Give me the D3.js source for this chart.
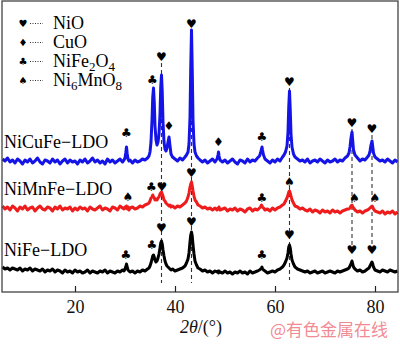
<!DOCTYPE html>
<html><head><meta charset="utf-8">
<script src="https://cdn.jsdelivr.net/npm/d3@7/dist/d3.min.js"></script>
<style>body{margin:0;background:#fff}svg{display:block}</style>
</head><body><svg id="c" width="400" height="344"></svg>
<script>
// 2θ sampling positions (degrees)
const angles = [
5.5,6,6.5,7,7.5,8,8.5,9,9.5,10,10.5,11,11.5,12,12.5,13,13.5,14,14.5,15,15.5,16,16.5,17,17.5,18,18.5,19,19.5,20,20.5,21,21.5,22,22.5,23,23.5,24,24.5,25,25.5,26,26.5,27,27.5,28,28.5,29,29.5,
29.8,30,30.15,30.3,30.45,30.6,30.8,31,
31.5,32,32.5,33,33.5,34,34.5,
34.8,35,35.2,35.4,35.55,35.7,35.85,36,36.2,36.4,36.6,36.8,37,37.15,37.3,37.45,37.6,37.8,38,38.2,38.4,38.6,38.8,39,39.2,39.5,
40,40.5,41,41.5,42,
42.3,42.6,42.8,43,43.15,43.3,43.45,43.6,43.8,44,44.3,44.6,45,
45.5,46,46.5,47,47.5,48,
48.4,48.6,48.7,48.8,49,49.5,
50,50.5,51,51.5,52,52.5,53,53.5,54,54.5,55,55.5,56,56.5,
56.9,57.1,57.3,57.4,57.5,57.7,58,
58.5,59,59.5,60,60.5,61,61.5,
61.8,62.1,62.4,62.6,62.75,62.9,63.05,63.2,63.4,63.7,64,
64.5,65,65.5,66,66.5,67,67.5,68,68.5,69,69.5,70,70.5,71,71.5,72,72.5,73,73.5,74,74.5,
74.8,75,75.2,75.4,75.55,75.7,76,
76.5,77,77.5,78,78.5,
78.8,79,79.2,79.4,79.55,79.7,80,
80.5,81,81.5,82,82.5,83,83.5,84,84.5];

// Intensities (a.u., stacked)
const niCuFe = [
133,131,134,130,132,129,133,131,128,132,130,133,129,131,134,130,128,132,131,129,133,130,132,128,131,133,129,132,130,131,128,132,130,133,129,131,134,130,132,129,131,128,133,130,132,129,131,133,130,
132,134,139,145,138,133,131,132,
129,132,130,131,133,132,134,
136,140,150,172,195,204,190,166,152,147,150,158,178,205,217,200,170,150,143,141,144,150,155,146,138,135,
133,131,134,132,135,
137,140,148,175,225,262,222,172,148,140,136,134,132,
130,132,129,131,133,130,
133,137,140,136,132,130,
132,129,131,133,130,128,132,131,129,133,130,132,131,134,
136,139,143,145,142,137,133,
131,129,132,130,133,131,135,
137,140,146,160,185,201,182,158,145,138,135,
133,131,132,130,133,129,131,132,130,133,131,129,132,130,131,133,130,132,131,134,136,
139,145,154,160,151,142,137,
134,131,133,132,135,
137,141,147,151,145,139,135,
133,131,132,130,133,131,129,132,130];

const niMnFe = [
86,83,85,82,86,84,81,85,83,86,82,84,85,81,84,86,83,82,85,84,81,85,83,86,82,84,83,85,81,84,82,85,83,84,81,85,83,82,84,86,82,84,83,81,85,84,82,86,84,
83,85,84,86,83,85,82,84,
85,83,84,86,85,87,88,
89,91,94,95,97,95,94,92,93,92,94,95,98,99,100,98,96,92,91,89,88,87,86,87,85,86,
84,86,85,87,89,
91,95,99,105,108,110,106,101,96,92,90,87,86,
84,85,83,84,82,84,
82,84,83,85,82,83,
84,81,83,82,84,81,83,82,80,83,84,81,83,82,
84,85,87,86,85,84,82,
83,81,84,82,84,85,87,
88,91,94,97,100,101,99,96,92,89,86,
85,83,84,82,81,83,80,82,81,79,82,80,81,79,82,80,81,79,81,82,83,
83,84,86,87,85,84,82,
80,81,79,81,82,
83,84,85,86,85,83,81,
80,79,81,78,80,79,81,78,80];

const niFe = [
25,23,24,22,24,23,22,24,21,23,22,24,21,23,22,21,23,20,22,21,23,20,22,21,19,22,20,21,19,22,20,21,19,20,22,19,21,20,19,21,20,22,19,21,20,19,21,20,22,
21,23,25,28,25,22,21,20,
21,19,21,20,22,21,23,
24,26,29,33,36,37,35,32,30,31,34,38,44,49,51,48,42,36,31,28,26,25,24,23,22,23,
21,22,23,24,26,
29,33,39,50,57,60,56,47,38,31,27,24,23,
21,22,20,21,19,21,
20,21,19,21,20,19,
21,19,20,18,20,19,21,19,20,18,21,19,20,21,
22,23,24,25,23,22,21,
19,20,21,20,22,23,25,
27,30,34,39,45,47,44,38,32,28,25,
23,22,21,20,21,19,20,21,19,20,21,19,20,21,20,19,21,20,21,22,23,
24,26,28,31,28,25,23,
21,22,20,21,23,
24,26,28,30,28,25,22,
21,20,22,21,20,22,21,20,21];

const seriesNames = ["NiCuFe\u2212LDO", "NiMnFe\u2212LDO", "NiFe\u2212LDO"];
const seriesColors = ["#1414e6", "#ee1c1c", "#000000"];
const seriesLabelLevel = [144, 97, 36];

const xTicks = [20, 40, 60, 80];

// phase legend
const phases = ["NiO", "CuO", "NiFe2O4", "Ni6MnO8"];
const phaseGlyph = {"NiO":"\u2665", "CuO":"\u2666", "NiFe2O4":"\u2663", "Ni6MnO8":"\u2660"};

// peak markers: [phase, 2θ, level]
const markersNiCuFe = [["NiFe2O4",30.3,159],["NiFe2O4",35.5,212],["NiO",37.3,235],["CuO",38.8,166],["NiO",43.3,268],["CuO",48.7,150],["NiFe2O4",57.4,155],["NiO",62.9,210],["NiO",75.4,169],["NiO",79.4,163]];
const markersNiMnFe = [["Ni6MnO8",30.6,95],["NiFe2O4",35.3,105],["NiO",37.4,105],["NiO",43.3,119],["NiFe2O4",57.4,94],["Ni6MnO8",62.9,110],["Ni6MnO8",75.9,94],["Ni6MnO8",80.0,94]];
const markersNiFe = [["NiFe2O4",30.2,37],["NiFe2O4",35.4,47],["NiO",37.3,64],["NiO",43.3,70],["NiFe2O4",57.4,37],["NiO",62.9,57],["NiO",75.4,42],["NiO",79.4,42]];

// reference dashed lines: [2θ, top level, bottom level]
const refLines = [[37.3,229,9],[43.3,262,9],[62.9,204,12],[75.4,163,47],[79.4,157,47]];

const svg = d3.select("#c");
const x = d3.scaleLinear().domain([5.4, 84.6]).range([2, 398]);
const y = d3.scaleLinear().domain([0, 290]).range([292, 2]);
const serif = "'Liberation Serif','Times New Roman',serif";

// dashed reference lines
svg.append("g").selectAll("line").data(refLines).join("line")
  .attr("x1", d => x(d[0])).attr("x2", d => x(d[0]))
  .attr("y1", d => y(d[1])).attr("y2", d => y(d[2]))
  .attr("stroke", "#333").attr("stroke-width", 1.1).attr("stroke-dasharray", "4,3");

// curves
const allSeries = [niCuFe, niMnFe, niFe];
const line = d3.line().x((d, i) => x(angles[i])).y(d => y(d));
[2, 1, 0].forEach(k => {
  svg.append("path").datum(allSeries[k]).attr("d", line)
    .attr("fill", "none").attr("stroke", seriesColors[k])
    .attr("stroke-width", 3).attr("stroke-linejoin", "round");
});

// frame
svg.append("rect").attr("x", 2).attr("y", 1).attr("width", 396).attr("height", 291)
  .attr("fill", "none").attr("stroke", "#444").attr("stroke-width", 1.3);

// x axis
const ax = svg.append("g").attr("transform", "translate(0,292)")
  .call(d3.axisBottom(x).tickValues(xTicks).tickSize(-6).tickFormat(d3.format("d")));
ax.select(".domain").remove();
ax.selectAll("line").attr("stroke", "#222").attr("stroke-width", 1.2);
ax.selectAll("text").attr("font-family", serif).attr("font-size", 18).attr("fill", "#111")
  .attr("y", 21).attr("dy", null);

// axis title
const t = svg.append("text").attr("x", 201).attr("y", 333).attr("text-anchor", "middle")
  .attr("font-family", serif).attr("font-size", 18).attr("fill", "#111");
t.append("tspan").attr("font-style", "italic").text("2\u03b8");
t.append("tspan").text("/(\u00b0)");

// markers
const allMarkers = [markersNiCuFe, markersNiMnFe, markersNiFe];
allMarkers.forEach(ms => {
  svg.append("g").selectAll("text").data(ms).join("text")
    .attr("x", d => x(d[1])).attr("y", d => y(d[2]))
    .attr("text-anchor", "middle").attr("dominant-baseline", "central")
    .attr("font-family", "'DejaVu Sans',sans-serif").attr("font-size", 12).attr("fill", "#000")
    .text(d => phaseGlyph[d[0]]);
});

// series labels
svg.append("g").selectAll("text").data(seriesNames).join("text")
  .attr("x", 4).attr("y", (d, i) => y(seriesLabelLevel[i]))
  .attr("font-family", serif).attr("font-size", 18).attr("fill", "#000")
  .text(d => d);

// legend
const lg = svg.append("g");
phases.forEach((p, i) => {
  const yy = 23 + i * 19;
  lg.append("text").attr("x", 23).attr("y", yy).attr("text-anchor", "middle").attr("dominant-baseline", "central")
    .attr("font-family", "'DejaVu Sans',sans-serif").attr("font-size", 10).text(phaseGlyph[p]);
  lg.append("line").attr("x1", 30).attr("x2", 43).attr("y1", yy + 0.5).attr("y2", yy + 0.5)
    .attr("stroke", "#333").attr("stroke-width", 1).attr("stroke-dasharray", "1,1.5");
  const tx = lg.append("text").attr("x", 53).attr("y", yy + 6).attr("font-family", serif).attr("font-size", 18).attr("fill", "#000");
  const parts = p.match(/[A-Za-z]+|\d+/g);
  let prevSub = false;
  parts.forEach(s => {
    if (/\d/.test(s)) { tx.append("tspan").attr("font-size", 13).attr("dy", 4).text(s); prevSub = true; }
    else { const sp = tx.append("tspan").text(s); if (prevSub) sp.attr("dy", -4); prevSub = false; }
  });
});

// watermark
svg.append("text").attr("x", 388).attr("y", 336).attr("text-anchor", "end")
  .attr("font-family", "'Noto Sans CJK SC',sans-serif").attr("font-size", 17)
  .attr("fill", "#f07c86").attr("fill-opacity", 0.9).text("@有色金属在线");
</script></body></html>
